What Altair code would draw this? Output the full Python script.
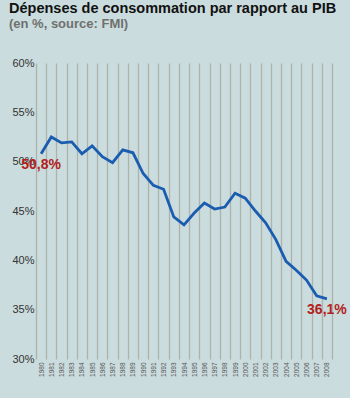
import altair as alt
import pandas as pd

years = [str(y) for y in range(1980, 2009)]
values = [50.8, 52.5, 51.9, 52.0, 50.8, 51.6, 50.5, 49.9, 51.2, 50.9,
          48.8, 47.6, 47.2, 44.4, 43.6, 44.8, 45.8, 45.2, 45.4, 46.8,
          46.3, 45.0, 43.8, 42.1, 39.9, 39.0, 38.0, 36.4, 36.1]
label_years = ["1980", "2008"]
label_values = [50.8, 36.1]
label_texts = ["50,8%", "36,1%"]

df = pd.DataFrame({"year": years, "value": values})
lab = pd.DataFrame({"year": label_years, "value": label_values, "text": label_texts})

BG = "#cadcdd"

x_enc = alt.X("year:O", title=None,
              scale=alt.Scale(paddingInner=0, paddingOuter=0),
              axis=alt.Axis(labelAngle=-90, labelFontSize=6.5, labelColor="#555555",
                            labelFont="Liberation Sans", labelPadding=3,
                            ticks=False, domain=False, grid=True, tickBand="extent",
                            gridColor="#adb3aa", gridWidth=1.3, gridOpacity=1))
y_enc = alt.Y("value:Q", title=None,
              scale=alt.Scale(domain=[30, 60], nice=False, zero=False),
              axis=alt.Axis(values=[30, 35, 40, 45, 50, 55, 60], labelExpr="datum.value + '%'",
                            labelFontSize=11, labelColor="#333333", labelFont="Liberation Sans",
                            ticks=False, domain=False, grid=False, labelPadding=2))

line = alt.Chart(df).mark_line(color="#1a5cb0", strokeWidth=2.8).encode(x=x_enc, y=y_enc)

text = alt.Chart(lab).mark_text(color="#b3211c", fontSize=14, fontWeight="bold",
                                font="Liberation Sans", align="center", baseline="middle",
                                dy=11).encode(
    x=alt.X("year:O"), y=alt.Y("value:Q"), text="text:N")

chart = alt.layer(line, text).properties(
    width=296, height=296,
    autosize=alt.AutoSizeParams(type="none"),
    padding={"left": 36, "top": 63, "right": 18, "bottom": 39},
    background=BG,
    title=alt.TitleParams(text="Dépenses de consommation par rapport au PIB",
                          subtitle="(en %, source: FMI)",
                          anchor="start", frame="group", dx=-27, offset=25,
                          font="Liberation Sans", fontSize=14.5, fontWeight="bold", color="#111111",
                          subtitleFont="Liberation Sans", subtitleFontSize=13,
                          subtitleFontWeight="bold", subtitleColor="#707070", subtitlePadding=2),
).configure_view(stroke=None, fill=BG)

chart.save("out.html", embed_options={"renderer": "svg", "actions": False})
